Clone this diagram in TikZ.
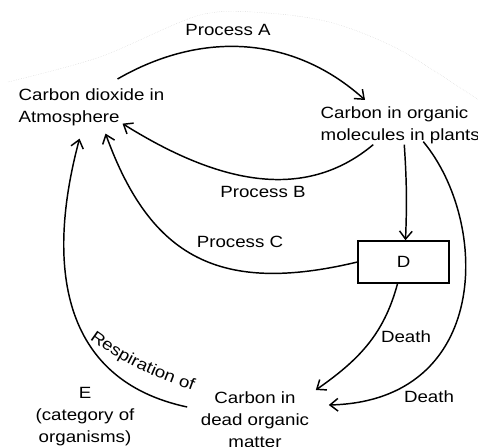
\documentclass[tikz,border=0pt]{standalone}
\usepackage{fontspec}
\setmainfont{Liberation Sans}[FakeStretch=1.15]
\usetikzlibrary{arrows.meta}
\usetikzlibrary{decorations.text}

\begin{document}
\begin{tikzpicture}[x=0.75pt,y=0.75pt,font=\fontsize{12.2}{16.5}\selectfont,
  >={Straight Barb[length=6pt,width=9.5pt]},line width=1.1pt]
\tikzset{pool/.style={inner sep=0pt, align=left}, box/.style={draw, minimum width=68pt, minimum height=31.5pt}}
\useasboundingbox (0,0) rectangle (478,446);
\draw[gray!45, line width=0.3pt, densely dotted] plot[smooth] coordinates {(8,364) (100,389) (200,431) (267,433) (333,423) (400,396) (480,345)};
\node[pool, anchor=north west] (0) at (18,358) {Carbon dioxide in\\Atmosphere};
\node[pool, anchor=north west] (1) at (320,340) {Carbon in organic\\molecules in plants};
\node[box] (2) at (403.5,184) {D};
\node[pool, anchor=north, align=center] (3) at (255,55) {Carbon in\\dead organic\\matter};
\node[pool, anchor=north, align=center] (4) at (85,59) {E\\(category of\\organisms)};
\node (5) at (228,416) {Process A};
\node (6) at (263,254) {Process B};
\node (7) at (240,204) {Process C};
\node (8) at (406,109) {Death};
\node (9) at (429,49) {Death};
\path[->] ([shift={(26,9)}]0.north) edge[out=30, in=138] ([shift={(45,6)}]1.north west);
\path[->] ([shift={(-27,0)}]1.south) edge[out=220, in=-32] ([shift={(31,3)}]0.south);
\draw[->] (2.west) .. controls +(-138,-33) and +(45,-124) .. ([shift={(14,-7)}]0.south);
\path[->] ([shift={(-13,-16)}]3.north west) edge[out=168, in=255, looseness=1.15] ([shift={(-12,-12)}]0.south);
\path[->] ([shift={(4,0)}]1.south) edge[bend left=3] ([shift={(2,0)}]2.north);
\path[->] ([shift={(-6,0)}]2.south) edge[out=255, in=35] ([shift={(6,1)}]3.north east);
\draw[->] ([shift={(23,3)}]1.south) .. controls +(67,-81) and +(162,4) .. ([shift={(19,-14)}]3.north east);
\path[decorate, decoration={text along path, text align=center, text={|\fontsize{12.2}{16.5}\selectfont|Respiration of}}] (91,106) to[out=-36, in=160] (191,56);
\end{tikzpicture}
\end{document}
